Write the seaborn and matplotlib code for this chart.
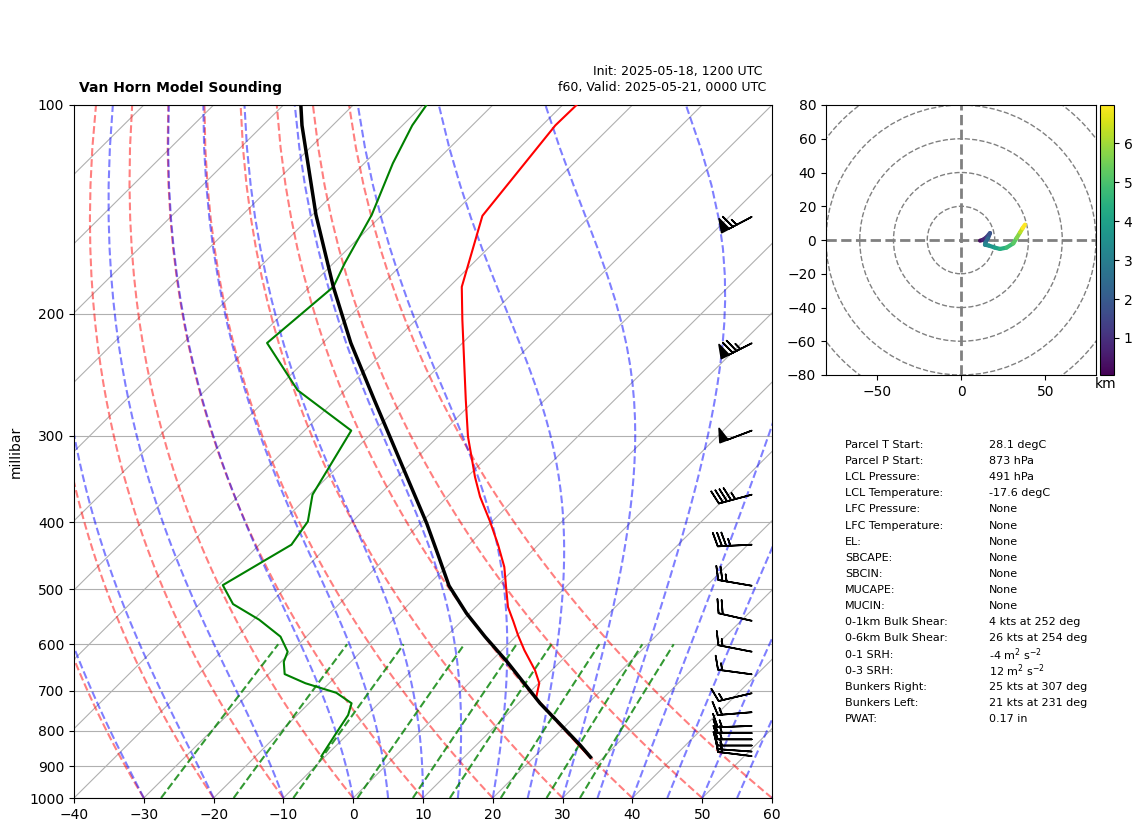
import numpy as np
import matplotlib
matplotlib.use("Agg")
import matplotlib.pyplot as plt
from matplotlib.collections import LineCollection
from matplotlib.patches import Circle
import seaborn as sns

# ---- sounding data ----
temp_p = [100, 107, 144.5, 183, 204, 266.5, 301, 323, 344, 367.5, 399, 431, 464, 495.5, 530,
          556.5, 582, 612, 654, 683, 718, 738, 772, 838, 873]
temp_t = [-68.0, -68.1, -65.5, -58.2, -53.4, -41.3, -35.7, -32.1, -28.9, -25.3, -20.3, -15.8, -11.7,
          -8.6, -5.4, -2.5, 0.1, 3.2, 7.6, 10.1, 11.8, 14.1, 17.9, 24.6, 28.0]
dew_p = [100, 107, 121.4, 144, 169, 183, 220.5, 258, 295, 365, 399, 431, 493, 525, 553, 585, 615, 636,
         662.5, 683, 705, 730, 759, 811, 870]
dew_t = [-89.5, -88.6, -85.9, -81.5, -78.4, -76.6, -78.0, -66.8, -53.3, -49.6, -46.4, -45.4, -49.4,
         -45.2, -39.2, -33.7, -30.5, -29.6, -27.7, -23.4, -17.6, -13.9, -12.7, -11.7, -10.6]
parcel_p = [100, 107, 144, 183, 220.5, 266.5, 336, 401.5, 446, 494, 541.5, 585, 636, 730, 838, 873]
parcel_t = [-107.5, -104.4, -89.5, -76.6, -66.0, -54.4, -40.1, -29.1, -22.9, -16.9, -10.4, -4.4, 2.4,
            13.1, 24.8, 28.1]

barb_p = [145, 220.7, 295, 365, 431, 494, 555, 615, 663, 706, 752, 787, 806, 823, 840, 857, 870]
barb_spd = [65, 75, 50, 45, 35, 25, 20, 15, 15, 15, 15, 15, 15, 15, 15, 15, 15]
barb_ang = [27.8, 26.8, 20.8, 15, 2.8, -9.7, -12.8, -11, -7.7, 13.3, 4.7, 2.2, 0, 0, 0, -4, -7]

hodo_u = [11.3, 13, 15, 17.2, 16, 14.5, 14.2, 16.5, 20, 23.1, 27, 31, 33, 35, 36.5, 37.9]
hodo_v = [-0.4, 0.1, 1.5, 4.1, 1, -1.5, -2.8, -3.3, -4.5, -5.3, -4.5, -2, 1.2, 4.5, 7, 9.1]
hodo_h = [0.05, 0.3, 0.8, 1.3, 1.9, 2.4, 2.8, 3.2, 3.6, 4.0, 4.4, 4.8, 5.2, 5.7, 6.3, 6.98]

dry_t0 = list(range(-30, 61, 10))
moist_t0 = [-30, -20, -10, 0, 5, 10, 15, 20, 25, 30, 35, 40, 45, 50, 55, 60]
mix_w = [0.0004, 0.001, 0.002, 0.004, 0.007, 0.01, 0.016, 0.024, 0.032]

y_ticks = [100, 200, 300, 400, 500, 600, 700, 800, 900, 1000]
x_ticks = list(range(-40, 61, 10))

stat_names = ["Parcel T Start:", "Parcel P Start:", "LCL Pressure:", "LCL Temperature:", "LFC Pressure:",
              "LFC Temperature:", "EL:", "SBCAPE:", "SBCIN:", "MUCAPE:", "MUCIN:", "0-1km Bulk Shear:",
              "0-6km Bulk Shear:", "0-1 SRH:", "0-3 SRH:", "Bunkers Right:", "Bunkers Left:", "PWAT:"]
stat_vals = ["28.1 degC", "873 hPa", "491 hPa", "-17.6 degC", "None", "None", "None", "None", "None", "None",
             "None", "4 kts at 252 deg", "26 kts at 254 deg", r"-4 m$^2$ s$^{-2}$", r"12 m$^2$ s$^{-2}$",
             "25 kts at 307 deg", "21 kts at 231 deg", "0.17 in"]

# ---- helpers ----
K = 100.0
W, H = 1142, 832


def skew(t, p):
    return np.asarray(t, float) + K * np.log10(1000.0 / np.asarray(p, float))


def es(tc):
    return 6.112 * np.exp(17.67 * tc / (tc + 243.5))


def moist_profile(t0, p):
    eps, rd, cp, lv = 0.622, 287.05, 1005.0, 2.501e6

    def f(pp, tk):
        rs = eps * es(tk - 273.15) / (pp - es(tk - 273.15))
        return (rd * tk + lv * rs) / (cp + lv ** 2 * rs * eps / (rd * tk ** 2)) / pp

    out = [t0 + 273.15]
    for a, b in zip(p[:-1], p[1:]):
        tk, h = out[-1], b - a
        k1 = f(a, tk)
        k2 = f(a + h / 2, tk + h * k1 / 2)
        k3 = f(a + h / 2, tk + h * k2 / 2)
        k4 = f(b, tk + h * k3)
        out.append(tk + h * (k1 + 2 * k2 + 2 * k3 + k4) / 6)
    return np.array(out) - 273.15


def box(l, t, r, b):
    return [l / W, (H - b) / H, (r - l) / W, (b - t) / H]


sns.set_style("ticks", {"axes.edgecolor": "black", "xtick.color": "black", "ytick.color": "black",
                        "text.color": "black", "axes.labelcolor": "black", "font.family": ["DejaVu Sans"],
                        "font.sans-serif": ["DejaVu Sans"]})
plt.rcParams["lines.solid_capstyle"] = "projecting"

fig = plt.figure(figsize=(W / 100, H / 100), dpi=100)
ax = fig.add_axes(box(74, 105, 772, 798))
ax.set_yscale("log")

p_fine = np.linspace(1000, 100, 60)
p_mix = np.linspace(1000, 600, 20)

for t in range(-150, 61, 10):
    ax.plot(skew([t, t], [1000, 100]), [1000, 100], color="#b0b0b0", lw=0.8, zorder=1)

for t0 in dry_t0:
    tt = (t0 + 273.15) * (p_fine / 1000.0) ** 0.2857 - 273.15
    sns.lineplot(x=skew(tt, p_fine), y=p_fine, ax=ax, sort=False, estimator=None, color="r",
                 alpha=0.5, linewidth=1.5, linestyle="--", zorder=2)
for t0 in moist_t0:
    tt = moist_profile(t0, p_fine)
    sns.lineplot(x=skew(tt, p_fine), y=p_fine, ax=ax, sort=False, estimator=None, color="b",
                 alpha=0.5, linewidth=1.5, linestyle="--", zorder=2)
for w in mix_w:
    e = p_mix * w / (0.622 + w)
    td = 243.5 * np.log(e / 6.112) / (17.67 - np.log(e / 6.112))
    sns.lineplot(x=skew(td, p_mix), y=p_mix, ax=ax, sort=False, estimator=None, color="g",
                 alpha=0.8, linewidth=1.5, linestyle="--", zorder=2)

sns.lineplot(x=skew(temp_t, temp_p), y=temp_p, ax=ax, sort=False, estimator=None, color="red", linewidth=1.5, zorder=4)
sns.lineplot(x=skew(dew_t, dew_p), y=dew_p, ax=ax, sort=False, estimator=None, color="green", linewidth=1.5, zorder=4)
sns.lineplot(x=skew(parcel_t, parcel_p), y=parcel_p, ax=ax, sort=False, estimator=None, color="black", linewidth=2.5, zorder=5)

a = np.radians(barb_ang)
ax.barbs(np.full(len(barb_p), 0.971), barb_p, np.array(barb_spd) * np.cos(a), np.array(barb_spd) * np.sin(a),
         transform=ax.get_yaxis_transform(), length=7, linewidth=1.2, color="k", zorder=6, clip_on=False)

ax.set_xlim(-40, 60)
ax.set_ylim(1000, 100)
ax.set_xticks(x_ticks)
ax.set_yticks(y_ticks)
ax.set_yticklabels([str(v) for v in y_ticks])
ax.minorticks_off()
ax.yaxis.set_minor_locator(matplotlib.ticker.NullLocator())
ax.yaxis.grid(True, color="#b0b0b0", lw=0.8)
ax.xaxis.grid(False)
ax.tick_params(labelsize=10)
ax.set_ylabel("millibar", fontsize=10)
ax.yaxis.set_label_coords(-51 / 698, 0.5)

fig.text(79 / W, 1 - 88 / H, "Van Horn Model Sounding", fontsize=10, fontweight="bold", va="center", ha="left")
fig.text(762 / W, 1 - 71 / H, "Init: 2025-05-18, 1200 UTC", fontsize=9, va="center", ha="right")
fig.text(766 / W, 1 - 88 / H, "f60, Valid: 2025-05-21, 0000 UTC", fontsize=9, va="center", ha="right")

# hodograph
hax = fig.add_axes(box(826, 105, 1096, 375))
for r in range(20, 101, 20):
    hax.add_patch(Circle((0, 0), r, fill=False, color="grey", linestyle="--", lw=1))
hax.axhline(0, color="grey", linestyle="--", lw=2)
hax.axvline(0, color="grey", linestyle="--", lw=2)
pts = np.column_stack([hodo_u, hodo_v])
segs = np.stack([pts[:-1], pts[1:]], axis=1)
lc = LineCollection(segs, cmap="viridis", linewidth=3, capstyle="round", zorder=3)
lc.set_array(np.array(hodo_h[1:]))
lc.set_clim(hodo_h[0], hodo_h[-1])
hax.add_collection(lc)
hax.set_xlim(-80, 80)
hax.set_ylim(-80, 80)
hax.set_xticks([-50, 0, 50])
hax.set_yticks(list(range(-80, 81, 20)))
hax.tick_params(labelsize=10)

cax = fig.add_axes(box(1100, 105, 1114, 375))
cb = fig.colorbar(lc, cax=cax)
cb.set_ticks([1, 2, 3, 4, 5, 6])
cb.ax.tick_params(labelsize=10)
fig.text(1106 / W, 1 - 384 / H, "km", fontsize=10, ha="center", va="center")

# stats table
row_y = np.linspace(445, 719, len(stat_names))
for y, n, v in zip(row_y, stat_names, stat_vals):
    fig.text(845 / W, 1 - y / H, n, fontsize=8, va="center", ha="left")
    fig.text(989 / W, 1 - y / H, v, fontsize=8, va="center", ha="left")

fig.savefig("out.png", dpi=100)
